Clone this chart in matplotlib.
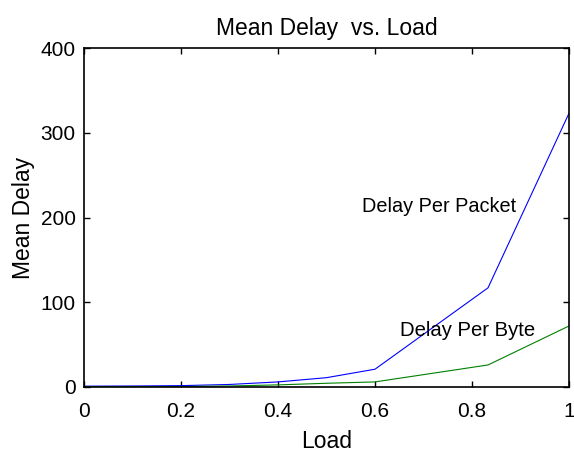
import matplotlib
matplotlib.use('Agg')
import matplotlib.pyplot as plt

# values
load = [0, 0.1, 0.2, 0.3, 0.4, 0.5, 0.6, 0.833, 1.0]
delay_packet = [1, 1.2, 1.6, 3, 6, 11, 21, 117, 323]
delay_byte = [0.3, 0.4, 0.5, 1.2, 2.5, 4.4, 6, 26, 72]

plt.rcParams['font.family'] = ['Liberation Sans', 'DejaVu Sans']

fig = plt.figure(figsize=(5.74, 4.55), dpi=100)
ax = fig.add_axes([84/574, 1-387/455, 485/574, 339/455])

ax.plot(load, delay_packet, color=(0, 0, 1), lw=0.8)
ax.plot(load, delay_byte, color=(0, 0.5, 0), lw=0.8)

ax.set_xlim(0, 1)
ax.set_ylim(0, 400)
ax.set_xticks([0, 0.2, 0.4, 0.6, 0.8, 1])
ax.set_xticklabels(['0', '0.2', '0.4', '0.6', '0.8', '1'])
ax.set_yticks([0, 100, 200, 300, 400])
ax.tick_params(direction='in', top=True, right=True, length=4, width=1,
               labelsize=15)
ax.tick_params(axis='x', pad=11)
ax.tick_params(axis='y', pad=6)
for s in ax.spines.values():
    s.set_linewidth(1.2)

ax.text(0.573, 213, 'Delay Per Packet', fontsize=14.3, va='center', ha='left')
ax.text(0.652, 67, 'Delay Per Byte', fontsize=14.6, va='center', ha='left')

ax.set_title('Mean Delay  vs. Load', fontsize=16.5, pad=9)
ax.set_xlabel('Load', fontsize=16.5, labelpad=6)
ax.set_ylabel('Mean Delay', fontsize=16.5, labelpad=4)

fig.savefig('out.png', dpi=100)
